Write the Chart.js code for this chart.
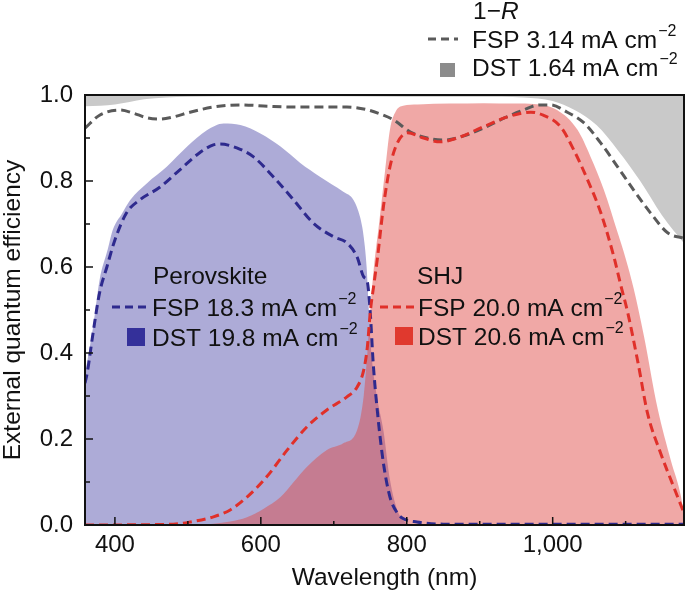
<!DOCTYPE html>
<html>
<head>
<meta charset="utf-8">
<script src="https://cdn.jsdelivr.net/npm/chart.js@4.4.0/dist/chart.umd.min.js"></script>
<style>
  html, body { margin: 0; padding: 0; background: #fff; }
  #wrap { width: 685px; height: 596px; position: relative; }
</style>
</head>
<body>
<div id="wrap"><canvas id="eqeChart"></canvas></div>
<script>
// 1-R, DST (gray area, filled up to 1.0)
const refDstWl = [359, 380, 400, 420, 440, 470, 500, 600, 700, 800, 900, 960, 1000, 1030, 1060, 1090, 1120, 1150, 1180];
const refDstVal = [0.974, 0.975, 0.978, 0.984, 0.99, 0.994, 0.996, 0.997, 0.997, 0.996, 0.996, 0.994, 0.986, 0.965, 0.93, 0.87, 0.8, 0.72, 0.655];

// 1-R, FSP (gray dashed)
const refFspWl = [359, 379, 407, 425, 444, 462, 480, 503, 535, 572, 609, 645, 681, 718, 745, 765, 782, 805, 828, 851, 873, 905, 933, 960, 982, 997, 1020, 1043, 1066, 1089, 1111, 1134, 1158, 1180];
const refFspVal = [0.923, 0.953, 0.965, 0.958, 0.947, 0.944, 0.949, 0.96, 0.972, 0.977, 0.974, 0.972, 0.972, 0.972, 0.966, 0.955, 0.942, 0.914, 0.9, 0.895, 0.902, 0.923, 0.946, 0.965, 0.977, 0.977, 0.96, 0.935, 0.888, 0.833, 0.779, 0.726, 0.679, 0.667];

// perovskite DST (blue area)
const pvkDstWl = [359, 370, 379, 390, 397, 410, 421, 444, 471, 499, 526, 549, 572, 600, 627, 654, 681, 713, 727, 736, 741, 745, 748, 751, 759, 768, 777, 787, 796, 805, 1180];
const pvkDstVal = [0.35, 0.46, 0.57, 0.64, 0.686, 0.725, 0.756, 0.795, 0.833, 0.88, 0.918, 0.934, 0.93, 0.91, 0.88, 0.842, 0.81, 0.775, 0.756, 0.716, 0.67, 0.6, 0.5, 0.41, 0.3, 0.22, 0.105, 0.035, 0.01, 0, 0];

// perovskite FSP (blue dashed)
const pvkFspWl = [359, 362, 370, 379, 389, 400, 416, 434, 462, 489, 517, 535, 544, 567, 590, 617, 645, 672, 700, 718, 732, 741, 746, 750, 754, 760, 768, 777, 787, 795, 814, 850, 1180];
const pvkFspVal = [0.33, 0.353, 0.446, 0.54, 0.6, 0.663, 0.726, 0.756, 0.786, 0.826, 0.867, 0.884, 0.886, 0.877, 0.856, 0.81, 0.756, 0.702, 0.67, 0.656, 0.623, 0.577, 0.565, 0.493, 0.377, 0.26, 0.144, 0.065, 0.028, 0.015, 0.007, 0.002, 0.002];

// SHJ DST (red area)
const shjDstWl = [359, 500, 535, 558, 581, 604, 627, 645, 663, 690, 713, 732, 741, 746, 750, 755, 762, 770, 777, 785, 795, 815, 860, 905, 950, 974, 1006, 1034, 1052, 1070, 1089, 1100, 1111, 1125, 1144, 1162, 1176, 1180];
const shjDstVal = [0, 0, 0.003, 0.008, 0.018, 0.038, 0.065, 0.1, 0.135, 0.174, 0.19, 0.221, 0.3, 0.4, 0.5, 0.6, 0.7, 0.82, 0.92, 0.962, 0.975, 0.978, 0.98, 0.981, 0.98, 0.979, 0.965, 0.919, 0.856, 0.78, 0.68, 0.62, 0.55, 0.44, 0.27, 0.15, 0.065, 0.02];

// SHJ FSP (red dashed)
const shjFspWl = [359, 480, 503, 535, 558, 581, 608, 636, 663, 690, 718, 732, 741, 746, 750, 755, 760, 768, 777, 787, 801, 823, 846, 869, 905, 938, 970, 987, 1011, 1029, 1048, 1066, 1084, 1093, 1103, 1117, 1130, 1148, 1166, 1180];
const shjFspVal = [0, 0.002, 0.007, 0.019, 0.035, 0.065, 0.112, 0.174, 0.228, 0.267, 0.298, 0.321, 0.36, 0.414, 0.495, 0.56, 0.623, 0.74, 0.833, 0.888, 0.912, 0.9, 0.891, 0.9, 0.926, 0.949, 0.96, 0.953, 0.926, 0.872, 0.802, 0.726, 0.623, 0.56, 0.493, 0.377, 0.26, 0.167, 0.088, 0.028];

// axes
const xTicks = [400, 600, 800, 1000];
const xTickLabels = ['400', '600', '800', '1,000'];
const xMinorTicks = [500, 700, 900, 1100];
const yTicks = [0, 0.2, 0.4, 0.6, 0.8, 1.0];
const yTickLabels = ['0.0', '0.2', '0.4', '0.6', '0.8', '1.0'];
const yMinorTicks = [0.1, 0.3, 0.5, 0.7, 0.9];

// legend current densities (mA cm-2)
const refJ = ['3.14', '1.64'];
const pvkJ = ['18.3', '19.8'];
const shjJ = ['20.0', '20.6'];

const FONT = '"Liberation Sans", Arial, Helvetica, sans-serif';
const toPts = (wl, val) => wl.map((w, i) => ({x: w, y: val[i]}));

// ticks inside the frame + black box
const frameTicks = {
    id: 'frameTicks',
    afterDatasetsDraw(chart) {
        const {ctx, chartArea: a, scales: {x, y}} = chart;
        ctx.save();
        ctx.strokeStyle = '#111';
        ctx.lineWidth = 1.5;
        xTicks.concat(xMinorTicks).forEach(v => {
            const px = x.getPixelForValue(v);
            const len = xTicks.includes(v) ? 8 : 4;
            ctx.beginPath();
            ctx.moveTo(px, a.bottom);
            ctx.lineTo(px, a.bottom - len);
            ctx.stroke();
        });
        yTicks.concat(yMinorTicks).forEach(v => {
            const py = y.getPixelForValue(v);
            const len = yTicks.includes(v) ? 8 : 5;
            ctx.beginPath();
            ctx.moveTo(a.left, py);
            ctx.lineTo(a.left + len, py);
            ctx.stroke();
        });
        ctx.lineWidth = 2;
        ctx.strokeRect(a.left, a.top, a.right - a.left, a.bottom - a.top);
        ctx.restore();
    }
};

// text with a superscript "−2"
const jText = (ctx, label, x, base) => {
    ctx.font = '24.5px ' + FONT;
    ctx.fillText(label, x, base);
    const w = ctx.measureText(label).width;
    ctx.font = '16px ' + FONT;
    ctx.fillText('\u22122', x + w + 1, base - 12);
};

const dashSample = (ctx, color, x0, x1, y) => {
    ctx.save();
    ctx.strokeStyle = color;
    ctx.lineWidth = 3;
    ctx.setLineDash([8, 5]);
    ctx.beginPath();
    ctx.moveTo(x0, y);
    ctx.lineTo(x1, y);
    ctx.stroke();
    ctx.restore();
};

const legends = {
    id: 'legends',
    afterDraw(chart) {
        const ctx = chart.ctx;
        ctx.save();
        ctx.fillStyle = '#111';
        ctx.textBaseline = 'alphabetic';

        // 1-R block
        ctx.font = '24.5px ' + FONT;
        ctx.fillText('1\u2212', 473, 19);
        const w1 = ctx.measureText('1\u2212').width;
        ctx.font = 'italic 24.5px ' + FONT;
        ctx.fillText('R', 473 + w1, 19);
        dashSample(ctx, '#5a5a5a', 428, 458, 39);
        ctx.fillStyle = '#111';
        jText(ctx, 'FSP ' + refJ[0] + ' mA cm', 472, 47.5);
        ctx.fillStyle = '#8c8c8c';
        ctx.fillRect(440, 63, 15, 14);
        ctx.fillStyle = '#111';
        jText(ctx, 'DST ' + refJ[1] + ' mA cm', 472, 76);

        // Perovskite block
        ctx.font = '24.5px ' + FONT;
        ctx.fillText('Perovskite', 153, 283.5);
        dashSample(ctx, '#2e2a8e', 112, 147, 307);
        ctx.fillStyle = '#111';
        jText(ctx, 'FSP ' + pvkJ[0] + ' mA cm', 152, 315.5);
        ctx.fillStyle = '#34309a';
        ctx.fillRect(127, 328, 18, 18);
        ctx.fillStyle = '#111';
        jText(ctx, 'DST ' + pvkJ[1] + ' mA cm', 152, 346);

        // SHJ block
        ctx.font = '24.5px ' + FONT;
        ctx.fillText('SHJ', 417, 283.5);
        dashSample(ctx, '#e0302a', 380, 415, 307);
        ctx.fillStyle = '#111';
        jText(ctx, 'FSP ' + shjJ[0] + ' mA cm', 418, 315.5);
        ctx.fillStyle = '#e0392e';
        ctx.fillRect(395, 327, 18, 18);
        ctx.fillStyle = '#111';
        jText(ctx, 'DST ' + shjJ[1] + ' mA cm', 418, 345);

        ctx.restore();
    }
};

const dashed = {borderWidth: 3, borderDash: [9, 5], pointRadius: 0, fill: false, cubicInterpolationMode: 'monotone'};
const area = {borderWidth: 0, borderColor: 'transparent', pointRadius: 0, cubicInterpolationMode: 'monotone'};

const ctx = document.getElementById('eqeChart').getContext('2d');
const eqeChart = new Chart(ctx, {
    type: 'line',
    data: {
        datasets: [
            {...area, label: '1-R DST', data: toPts(refDstWl, refDstVal), backgroundColor: '#c9c9c9', fill: 'end', order: 6},
            {...area, label: 'Perovskite DST', data: toPts(pvkDstWl, pvkDstVal), backgroundColor: 'rgba(50, 45, 155, 0.4)', fill: 'origin', order: 5},
            {...area, label: 'SHJ DST', data: toPts(shjDstWl, shjDstVal), backgroundColor: 'rgba(224, 74, 68, 0.48)', fill: 'origin', order: 4},
            {...dashed, label: '1-R FSP', data: toPts(refFspWl, refFspVal), borderColor: '#5a5a5a', order: 3},
            {...dashed, label: 'Perovskite FSP', data: toPts(pvkFspWl, pvkFspVal), borderColor: '#2e2a8e', order: 2},
            {...dashed, label: 'SHJ FSP', data: toPts(shjFspWl, shjFspVal), borderColor: '#e0302a', order: 1}
        ]
    },
    options: {
        responsive: true,
        maintainAspectRatio: false,
        animation: false,
        devicePixelRatio: 1,
        layout: {padding: {top: 95, right: 1, left: 0, bottom: 0}},
        plugins: {legend: {display: false}, tooltip: {enabled: false}},
        scales: {
            x: {
                type: 'linear',
                min: 359,
                max: 1180,
                grid: {display: false, drawTicks: false},
                border: {display: false},
                afterBuildTicks: s => { s.ticks = xTicks.map(v => ({value: v})); },
                afterFit: s => { s.height = 71; },
                ticks: {
                    padding: 6,
                    color: '#111',
                    font: {family: FONT, size: 24},
                    maxRotation: 0,
                    callback: v => xTickLabels[xTicks.indexOf(v)]
                },
                title: {
                    display: true,
                    text: 'Wavelength (nm)',
                    color: '#111',
                    font: {family: FONT, size: 24.5},
                    padding: {top: 0, bottom: 3}
                }
            },
            y: {
                min: 0,
                max: 1,
                grid: {display: false, drawTicks: false},
                border: {display: false},
                afterBuildTicks: s => { s.ticks = yTicks.map(v => ({value: v})); },
                afterFit: s => { s.width = 85; },
                ticks: {
                    padding: 12,
                    color: '#111',
                    font: {family: FONT, size: 24},
                    callback: v => yTickLabels[yTicks.indexOf(v)]
                },
                title: {
                    display: true,
                    text: 'External quantum efficiency',
                    color: '#111',
                    font: {family: FONT, size: 24.5, lineHeight: 1.05},
                    padding: {top: 0, bottom: 0}
                }
            }
        }
    },
    plugins: [frameTicks, legends]
});
</script>
</body>
</html>
